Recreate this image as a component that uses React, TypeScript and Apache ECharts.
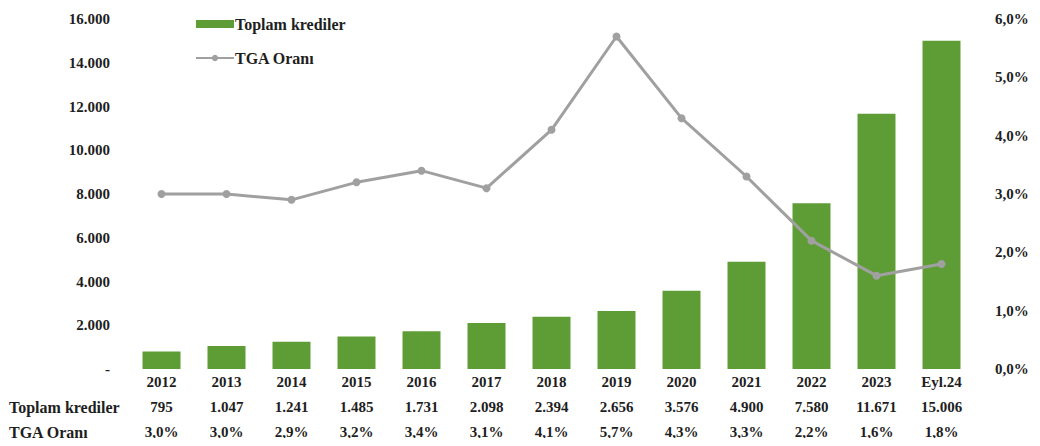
import React, { useEffect, useRef } from "react";
import * as echarts from "echarts";

const categories = ["2012", "2013", "2014", "2015", "2016", "2017", "2018", "2019", "2020", "2021", "2022", "2023", "Eyl.24"];
const toplamKrediler = [795, 1047, 1241, 1485, 1731, 2098, 2394, 2656, 3576, 4900, 7580, 11671, 15006];
const tgaOrani = [3.0, 3.0, 2.9, 3.2, 3.4, 3.1, 4.1, 5.7, 4.3, 3.3, 2.2, 1.6, 1.8];
const rowHeaders = ["Toplam krediler", "TGA Oranı"];

const FONT = "'Liberation Serif', 'DejaVu Serif', serif";
const TXT = "#1e1e1e";

function fmtThousands(n: number): string {
  const s = String(Math.round(n));
  return s.replace(/\B(?=(\d{3})+(?!\d))/g, ".");
}
function fmtPct(n: number): string {
  return n.toFixed(1).replace(".", ",") + "%";
}

export default function App() {
  const ref = useRef<HTMLDivElement>(null);
  useEffect(() => {
    if (!ref.current) return;
    const chart = echarts.init(ref.current, undefined, { renderer: "svg" });
    const base = { fontFamily: FONT, fontWeight: "bold" as const, fontSize: 15, color: TXT };
    chart.setOption({
      animation: false,
      backgroundColor: "#ffffff",
      textStyle: { fontFamily: FONT },
      title: [
        { text: rowHeaders[0], left: 9, top: 399, padding: 0, textStyle: { ...base, fontSize: 16 } },
        { text: rowHeaders[1], left: 9, top: 424, padding: 0, textStyle: { ...base, fontSize: 16 } },
      ],
      legend: {
        orient: "vertical",
        left: 190,
        top: 11,
        itemGap: 18,
        itemWidth: 38,
        itemHeight: 8,
        textStyle: { ...base, fontSize: 16, padding: [0, 0, 0, -4] },
        data: [
          { name: "Toplam krediler", icon: "rect" },
          { name: "TGA Oranı" },
        ],
      },
      grid: { left: 129, right: 66, top: 19, bottom: 77, containLabel: false },
      xAxis: {
        type: "category",
        data: categories,
        axisLine: { show: false },
        axisTick: { show: false },
        axisLabel: {
          margin: 0,
          interval: 0,
          verticalAlign: "top",
          formatter: (v: string, i: number) =>
            `{a|${v}}\n{a|${fmtThousands(toplamKrediler[i])}}\n{a|${fmtPct(tgaOrani[i])}}`,
          rich: { a: { ...base, lineHeight: 25 } },
        },
      },
      yAxis: [
        {
          type: "value",
          min: 0,
          max: 16000,
          interval: 2000,
          splitLine: { show: false },
          axisLine: { show: false },
          axisTick: { show: false },
          axisLabel: {
            ...base,
            margin: 19,
            formatter: (v: number) => (v === 0 ? "-" : fmtThousands(v)),
          },
        },
        {
          type: "value",
          min: 0,
          max: 6,
          interval: 1,
          splitLine: { show: false },
          axisLine: { show: false },
          axisTick: { show: false },
          axisLabel: {
            ...base,
            margin: 21,
            formatter: (v: number) => fmtPct(v),
          },
        },
      ],
      series: [
        {
          name: "Toplam krediler",
          type: "bar",
          data: toplamKrediler,
          barWidth: 38,
          itemStyle: { color: "#5e9d36" },
          z: 2,
        },
        {
          name: "TGA Oranı",
          type: "line",
          yAxisIndex: 1,
          data: tgaOrani,
          symbol: "circle",
          symbolSize: 8,
          lineStyle: { color: "#a0a0a0", width: 3 },
          itemStyle: { color: "#a0a0a0" },
          z: 3,
        },
      ],
    });
    return () => chart.dispose();
  }, []);
  return (
    <div style={{ margin: -8 }}>
      <div ref={ref} style={{ width: 1040, height: 446 }} />
    </div>
  );
}
